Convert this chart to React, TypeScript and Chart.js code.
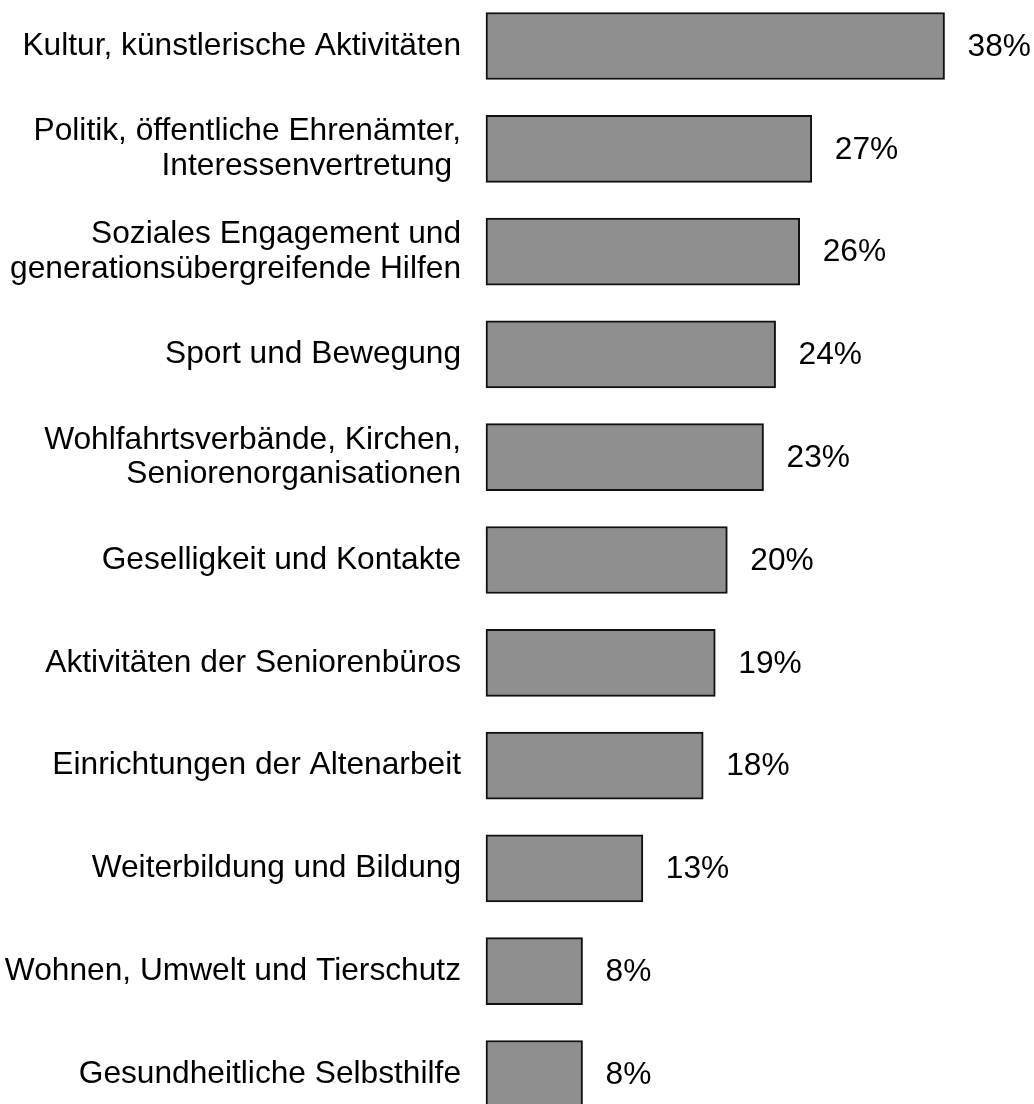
import React, { useEffect, useRef } from "react";
import { Chart, registerables } from "chart.js";

Chart.register(...registerables);

const categories: (string | string[])[] = [
  "Kultur, künstlerische Aktivitäten",
  ["Politik, öffentliche Ehrenämter,", "Interessenvertretung "],
  ["Soziales Engagement und", "generationsübergreifende Hilfen"],
  "Sport und Bewegung",
  ["Wohlfahrtsverbände, Kirchen,", "Seniorenorganisationen"],
  "Geselligkeit und Kontakte",
  "Aktivitäten der Seniorenbüros",
  "Einrichtungen der Altenarbeit",
  "Weiterbildung und Bildung",
  "Wohnen, Umwelt und Tierschutz",
  "Gesundheitliche Selbsthilfe",
];

const values: number[] = [38, 27, 26, 24, 23, 20, 19, 18, 13, 8, 8];

const FONT = "'Liberation Sans', Arial, sans-serif";
const FONT_SIZE = 31.7;

const valueLabels = {
  id: "valueLabels",
  afterDatasetsDraw(chart: any) {
    const ctx = chart.ctx;
    const meta = chart.getDatasetMeta(0);
    ctx.save();
    ctx.font = `${FONT_SIZE}px ${FONT}`;
    ctx.fillStyle = "#000";
    ctx.textAlign = "left";
    ctx.textBaseline = "middle";
    meta.data.forEach((bar: any, i: number) => {
      ctx.fillText(values[i] + "%", bar.x + 23, bar.y + 1);
    });
    ctx.restore();
  },
};

export default function App() {
  const ref = useRef<HTMLCanvasElement>(null);
  useEffect(() => {
    document.body.style.margin = "0";
    const chart = new Chart(ref.current!, {
      type: "bar",
      data: {
        labels: categories,
        datasets: [
          {
            data: values,
            backgroundColor: "#8f8f8f",
            borderColor: "#111111",
            borderWidth: 2,
            borderSkipped: false,
            barThickness: 67,
            clip: false as any,
          },
        ],
      },
      options: {
        animation: false,
        responsive: true,
        maintainAspectRatio: false,
        indexAxis: "y",
        layout: { padding: { top: 46, bottom: 30, left: 0, right: 5 } },
        plugins: { legend: { display: false }, tooltip: { enabled: false } },
        scales: {
          x: { display: false, min: 0, max: 45 },
          y: {
            type: "category",
            offset: false,
            grid: { display: false, drawTicks: true, tickLength: 25 },
            border: { display: false },
            ticks: {
              autoSkip: false,
              padding: 0,
              color: "#000",
              font: { family: FONT, size: FONT_SIZE, lineHeight: 1.085 },
            },
            afterFit: (s: any) => {
              s.width = 486;
            },
          },
        },
      },
      plugins: [valueLabels],
    });
    return () => chart.destroy();
  }, []);
  return (
    <div style={{ width: 1034, height: 1104, position: "relative" }}>
      <canvas ref={ref} />
    </div>
  );
}
